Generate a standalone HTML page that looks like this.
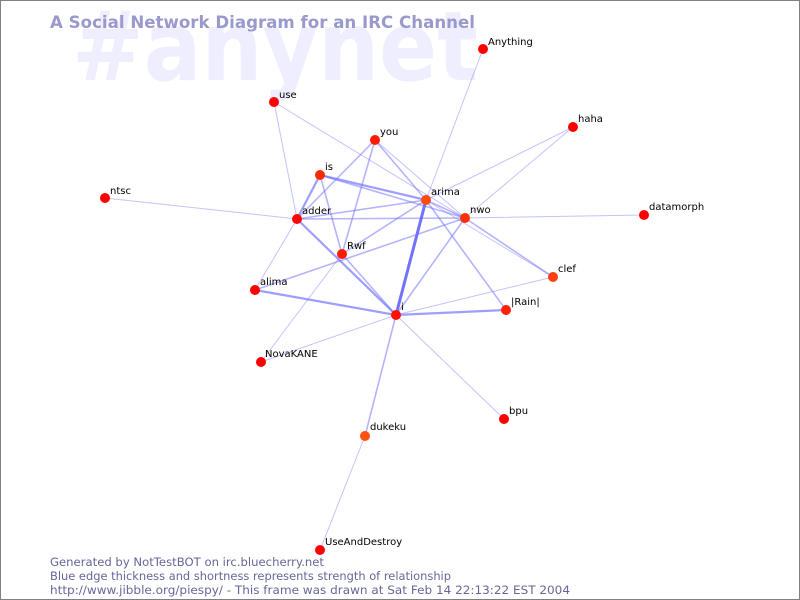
<!DOCTYPE html>
<html><head><meta charset="utf-8"><style>
html,body{margin:0;padding:0;background:#fff;}
svg{display:block;}
</style></head><body>
<svg width="800" height="600" xmlns="http://www.w3.org/2000/svg" font-family="'DejaVu Sans','Liberation Sans',sans-serif">
<rect x="0.5" y="0.5" width="799" height="599" fill="#fff" stroke="#808080"/>
<text x="72" y="80" font-size="96" font-weight="bold" fill="#eeeeff" textLength="406" lengthAdjust="spacingAndGlyphs">#anynet</text>
<text x="50" y="28" font-size="17" font-weight="bold" fill="#9999cc" textLength="425" lengthAdjust="spacingAndGlyphs">A Social Network Diagram for an IRC Channel</text>
<g stroke="#6a6aff" stroke-linecap="round">
<g stroke-opacity="0.4" stroke-width="1">
<line x1="483" y1="49" x2="426" y2="200"/>
<line x1="274" y1="102" x2="297" y2="219"/>
<line x1="274" y1="102" x2="465" y2="218"/>
<line x1="573" y1="127" x2="426" y2="200"/>
<line x1="573" y1="127" x2="465" y2="218"/>
<line x1="105" y1="198" x2="297" y2="219"/>
<line x1="465" y1="218" x2="644" y2="215"/>
<line x1="365" y1="436" x2="320" y2="550"/>
<line x1="261" y1="362" x2="342" y2="254"/>
<line x1="261" y1="362" x2="396" y2="315"/>
<line x1="396" y1="315" x2="504" y2="419"/>
<line x1="396" y1="315" x2="553" y2="277"/>
<line x1="255" y1="290" x2="297" y2="219"/>
<line x1="375" y1="140" x2="465" y2="218"/>
<line x1="426" y1="200" x2="553" y2="277"/>
</g>
<g stroke-opacity="0.5" stroke-width="1.6">
<line x1="375" y1="140" x2="297" y2="219"/>
<line x1="375" y1="140" x2="342" y2="254"/>
<line x1="375" y1="140" x2="426" y2="200"/>
<line x1="320" y1="175" x2="342" y2="254"/>
<line x1="320" y1="175" x2="465" y2="218"/>
<line x1="297" y1="219" x2="426" y2="200"/>
<line x1="297" y1="219" x2="465" y2="218"/>
<line x1="426" y1="200" x2="465" y2="218"/>
<line x1="426" y1="200" x2="506" y2="310"/>
<line x1="426" y1="200" x2="342" y2="254"/>
<line x1="255" y1="290" x2="465" y2="218"/>
<line x1="465" y1="218" x2="553" y2="277"/>
<line x1="465" y1="218" x2="396" y2="315"/>
<line x1="342" y1="254" x2="396" y2="315"/>
<line x1="396" y1="315" x2="365" y2="436"/>
</g>
<g stroke-opacity="0.65" stroke-width="2.2">
<line x1="320" y1="175" x2="297" y2="219"/>
<line x1="320" y1="175" x2="426" y2="200"/>
<line x1="297" y1="219" x2="396" y2="315"/>
<line x1="255" y1="290" x2="396" y2="315"/>
<line x1="396" y1="315" x2="506" y2="310"/>
</g>
<line x1="426" y1="200" x2="396" y2="315" stroke-opacity="0.95" stroke-width="3"/>
</g>
<g>
<circle cx="483" cy="49" r="5" fill="#ff0000"/>
<circle cx="274" cy="102" r="5" fill="#ff0000"/>
<circle cx="573" cy="127" r="5" fill="#ff0000"/>
<circle cx="375" cy="140" r="5" fill="#ff1a00"/>
<circle cx="320" cy="175" r="5" fill="#ff2a00"/>
<circle cx="105" cy="198" r="5" fill="#ff0000"/>
<circle cx="426" cy="200" r="5" fill="#ff4a10"/>
<circle cx="297" cy="219" r="5" fill="#ff0808"/>
<circle cx="465" cy="218" r="5" fill="#ff3000"/>
<circle cx="644" cy="215" r="5" fill="#ff0000"/>
<circle cx="342" cy="254" r="5" fill="#ff1a00"/>
<circle cx="553" cy="277" r="5" fill="#ff4010"/>
<circle cx="255" cy="290" r="5" fill="#ff0000"/>
<circle cx="396" cy="315" r="5" fill="#ff1000"/>
<circle cx="506" cy="310" r="5" fill="#ff2000"/>
<circle cx="261" cy="362" r="5" fill="#ff0000"/>
<circle cx="504" cy="419" r="5" fill="#ff0000"/>
<circle cx="365" cy="436" r="5" fill="#ff5010"/>
<circle cx="320" cy="550" r="5" fill="#ff0000"/>
</g>
<g font-size="10" fill="#000">
<text x="488" y="45">Anything</text>
<text x="279" y="98">use</text>
<text x="578" y="122">haha</text>
<text x="380" y="135">you</text>
<text x="325" y="170">is</text>
<text x="110" y="194">ntsc</text>
<text x="431" y="195">arima</text>
<text x="302" y="214">adder</text>
<text x="470" y="213">nwo</text>
<text x="649" y="210">datamorph</text>
<text x="347" y="249">Rwf</text>
<text x="558" y="272">clef</text>
<text x="260" y="285">alima</text>
<text x="401" y="310">i</text>
<text x="511" y="305">|Rain|</text>
<text x="265" y="357">NovaKANE</text>
<text x="509" y="414">bpu</text>
<text x="370" y="430">dukeku</text>
<text x="325" y="545">UseAndDestroy</text>
</g>
<g font-size="11.5" fill="#66669a">
<text x="50" y="566" textLength="274" lengthAdjust="spacingAndGlyphs">Generated by NotTestBOT on irc.bluecherry.net</text>
<text x="50" y="580" textLength="401" lengthAdjust="spacingAndGlyphs">Blue edge thickness and shortness represents strength of relationship</text>
<text x="50" y="594" textLength="520" lengthAdjust="spacingAndGlyphs">http://www.jibble.org/piespy/ - This frame was drawn at Sat Feb 14 22:13:22 EST 2004</text>
</g>
</svg>
</body></html>
